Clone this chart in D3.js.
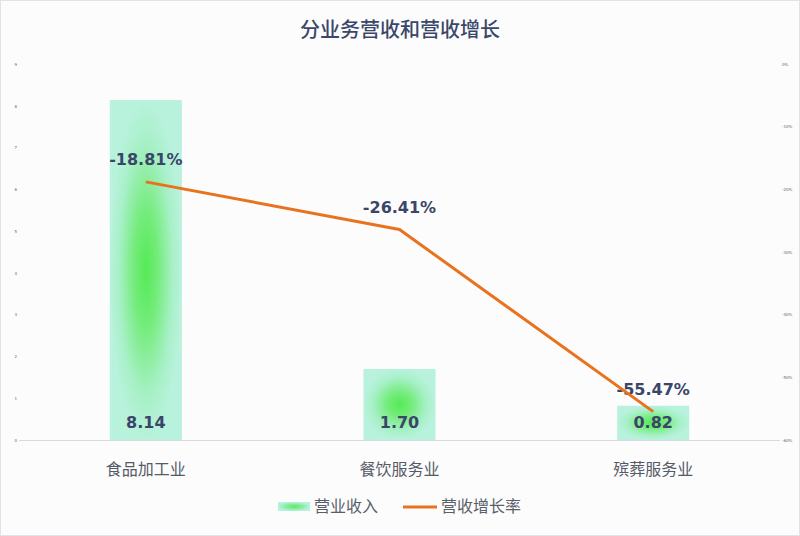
<!DOCTYPE html>
<html>
<head>
<meta charset="utf-8">
<script src="https://cdn.jsdelivr.net/npm/d3@7/dist/d3.min.js"></script>
<style>
  html, body { margin: 0; padding: 0; background: #fcfcfd; }
  svg { display: block; }
</style>
</head>
<body>
<svg id="chart" width="800" height="536"></svg>
<script>
// Business segments, revenue (bars) and revenue growth (line)
const categories = ["食品加工业", "餐饮服务业", "殡葬服务业"];
const revenue = [8.14, 1.70, 0.82];
const growth = [-18.81, -26.41, -55.47];
const leftTicks = [0, 1, 2, 3, 4, 5, 6, 7, 8, 9];
const rightTicks = [-60, -50, -40, -30, -20, -10, 0];
const title = "分业务营收和营收增长";
const legendLabels = ["营业收入", "营收增长率"];

const W = 800, H = 536;
const plot = { left: 19, right: 780, top: 64, bottom: 440 };
const cjk = "'Noto Sans CJK SC', 'Noto Sans', sans-serif";
const num = "'DejaVu Sans', Verdana, sans-serif";

const svg = d3.select("#chart");

// background and frame
svg.append("rect").attr("x", 0.5).attr("y", 0.5).attr("width", W - 1).attr("height", H - 1)
  .attr("fill", "#fcfcfd").attr("stroke", "#e2e2e6");

const defs = svg.append("defs");
const grad = defs.append("radialGradient").attr("id", "barGlow")
  .attr("cx", "50%").attr("cy", "50%").attr("r", "50%");
grad.append("stop").attr("offset", "0%").attr("stop-color", "#55ea55");
grad.append("stop").attr("offset", "35%").attr("stop-color", "#76ec7e");
grad.append("stop").attr("offset", "75%").attr("stop-color", "#a8f0c8");
grad.append("stop").attr("offset", "100%").attr("stop-color", "#b8f2dc");

const legGrad = defs.append("radialGradient").attr("id", "legGlow")
  .attr("cx", "50%").attr("cy", "50%").attr("r", "50%");
legGrad.append("stop").attr("offset", "0%").attr("stop-color", "#5ee85e");
legGrad.append("stop").attr("offset", "60%").attr("stop-color", "#8eedaa");
legGrad.append("stop").attr("offset", "100%").attr("stop-color", "#b8f2dc");

const x = d3.scaleBand().domain(categories).range([plot.left, plot.right]).paddingInner(0.716).paddingOuter(0.358);
const yL = d3.scaleLinear().domain([0, 9]).range([plot.bottom, plot.top]);
const yR = d3.scaleLinear().domain([-60, 0]).range([plot.bottom, plot.top]);
const cx = c => x(c) + x.bandwidth() / 2;

// title
svg.append("text").attr("x", W / 2).attr("y", 37).attr("text-anchor", "middle")
  .style("font-family", cjk).style("font-size", "20px").style("font-weight", 500)
  .attr("fill", "#3b4768").text(title);

// left axis: tiny tick labels
const leftAxis = d3.axisLeft(yL).tickValues(leftTicks).tickSize(0).tickPadding(0).tickFormat(d3.format("d"));
const gL = svg.append("g").attr("transform", "translate(17,0)").call(leftAxis);
gL.select(".domain").remove();
gL.selectAll("text").style("font-size", "4px").style("font-family", num).attr("fill", "#666");

// right axis: tiny tick labels
const rightAxis = d3.axisRight(yR).tickValues(rightTicks).tickSize(0).tickPadding(0).tickFormat(d => d + "%");
const gR = svg.append("g").attr("transform", "translate(782,0)").call(rightAxis);
gR.select(".domain").remove();
gR.selectAll("text").style("font-size", "4px").style("font-family", num).attr("fill", "#666");

// baseline
svg.append("line").attr("x1", plot.left).attr("x2", plot.right)
  .attr("y1", plot.bottom + 0.5).attr("y2", plot.bottom + 0.5)
  .attr("stroke", "#d9d9de").attr("stroke-width", 1);

// bars
svg.append("g").selectAll("rect").data(categories).join("rect")
  .attr("x", d => x(d)).attr("width", x.bandwidth())
  .attr("y", (d, i) => yL(revenue[i]))
  .attr("height", (d, i) => yL(0) - yL(revenue[i]))
  .attr("fill", "url(#barGlow)");

// x category labels
svg.append("g").selectAll("text").data(categories).join("text")
  .attr("x", d => cx(d)).attr("y", 475).attr("text-anchor", "middle")
  .style("font-family", cjk).style("font-size", "16px")
  .attr("fill", "#555a66").text(d => d);

// value labels inside bars
svg.append("g").selectAll("text").data(categories).join("text")
  .attr("x", d => cx(d)).attr("y", 428).attr("text-anchor", "middle")
  .style("font-family", num).style("font-size", "16px").style("font-weight", "bold")
  .attr("fill", "#3a4668")
  .text((d, i) => revenue[i].toFixed(2));

// growth labels
svg.append("g").selectAll("text").data(categories).join("text")
  .attr("x", d => cx(d)).attr("y", (d, i) => yR(growth[i]) - 17).attr("text-anchor", "middle")
  .style("font-family", num).style("font-size", "16px").style("font-weight", "bold")
  .attr("fill", "#3a4668")
  .text((d, i) => growth[i].toFixed(2) + "%");

// growth line
const line = d3.line().x(d => cx(d.c)).y(d => yR(d.v));
svg.append("path").datum(categories.map((c, i) => ({ c, v: growth[i] })))
  .attr("d", line).attr("fill", "none").attr("stroke", "#e8721e")
  .attr("stroke-width", 3).attr("stroke-linejoin", "round");

// legend
const lg = svg.append("g");
lg.append("rect").attr("x", 278).attr("y", 502).attr("width", 32).attr("height", 9).attr("fill", "url(#legGlow)");
lg.append("text").attr("x", 314).attr("y", 512)
  .style("font-family", cjk).style("font-size", "16px").attr("fill", "#5a5e68").text(legendLabels[0]);
lg.append("line").attr("x1", 403).attr("x2", 437).attr("y1", 507).attr("y2", 507)
  .attr("stroke", "#e8721e").attr("stroke-width", 3);
lg.append("text").attr("x", 441).attr("y", 512)
  .style("font-family", cjk).style("font-size", "16px").attr("fill", "#5a5e68").text(legendLabels[1]);
</script>
</body>
</html>
